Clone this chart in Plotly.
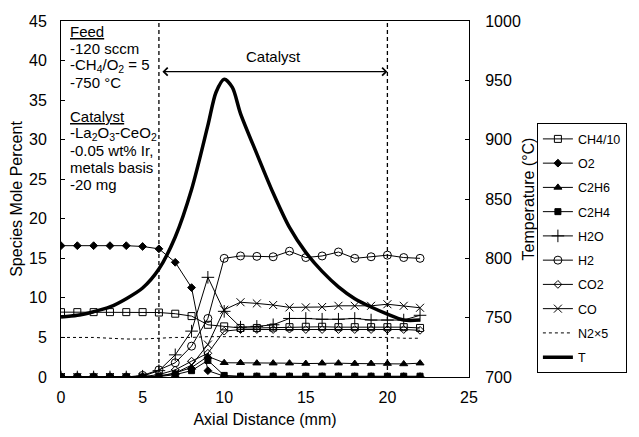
import plotly.graph_objects as go

# ---------------- data ----------------
dist = list(range(23))  # axial distance, mm

ch4_10 = [8.2, 8.2, 8.2, 8.2, 8.2, 8.2, 8.15, 8.0, 7.7, 6.6, 6.4, 6.2, 6.2, 6.25, 6.3, 6.35, 6.35, 6.3, 6.3, 6.3, 6.3, 6.3, 6.2]
o2 = [16.6, 16.6, 16.6, 16.6, 16.6, 16.5, 16.2, 14.5, 11.3, 0.8, 0.1, 0.05, 0.05, 0.05, 0.05, 0.05, 0.05, 0.05, 0.05, 0.05, 0.05, 0.05, 0.05]
c2h6 = [0, 0, 0, 0, 0, 0, 0.1, 0.5, 1.2, 2.6, 1.8, 1.8, 1.75, 1.75, 1.75, 1.7, 1.75, 1.75, 1.7, 1.7, 1.7, 1.65, 1.75]
c2h4 = [0, 0, 0, 0, 0, 0, 0.05, 0.3, 0.8, 2.1, 0.2, 0.1, 0.1, 0.1, 0.1, 0.1, 0.1, 0.1, 0.1, 0.1, 0.1, 0.1, 0.1]
h2o = [0, 0, 0, 0, 0, 0.1, 0.8, 2.8, 5.8, 12.6, 8.3, 6.3, 6.4, 6.6, 7.4, 7.4, 7.3, 7.3, 7.4, 7.2, 7.2, 7.2, 7.8]
h2 = [0, 0, 0, 0, 0, 0.2, 0.9, 1.8, 3.9, 7.4, 15.0, 15.3, 15.25, 15.2, 15.9, 15.1, 15.3, 15.8, 15.0, 15.2, 15.4, 15.1, 15.0]
co2 = [0, 0, 0, 0, 0, 0.05, 0.3, 0.9, 2.0, 3.0, 5.8, 6.0, 6.0, 6.0, 6.05, 6.0, 6.0, 6.0, 6.0, 6.0, 6.0, 6.0, 5.9]
co = [0, 0, 0, 0, 0, 0, 0.1, 0.5, 1.5, 4.1, 8.5, 9.45, 9.3, 9.1, 8.8, 8.8, 8.85, 9.0, 9.0, 9.0, 9.2, 9.0, 8.75]
n2x5 = [5.0, 5.0, 5.0, 4.9, 4.8, 4.8, 4.9, 5.0, 5.0, 5.1, 5.1, 5.1, 5.1, 5.1, 5.0, 5.0, 5.0, 5.0, 5.0, 5.0, 5.0, 4.9, 4.9]

t_dist = [0, 1, 2, 3, 4, 5, 6, 7, 8, 9, 9.5, 10, 10.5, 11, 12, 13, 14, 15, 16, 17, 18, 19, 20, 21, 22]
temp = [750.5, 752, 755, 759, 766, 775, 791, 818, 858, 912, 940, 951, 944, 922, 888, 855, 826, 805, 789, 776, 766, 759, 753, 748, 748]

catalyst_start, catalyst_end = 6, 20
info_lines = ["<u>Feed</u>", "-120 sccm", "-CH<sub>4</sub>/O<sub>2</sub> = 5", "-750 °C", "",
              "<u>Catalyst</u>", "-La<sub>2</sub>O<sub>3</sub>-CeO<sub>2</sub>", "-0.05 wt% Ir,",
              "metals basis", "-20 mg"]

FONT = "Liberation Sans, Arial, sans-serif"

fig = go.Figure()

species = [
    ("CH4/10", ch4_10, dict(symbol="square-open", size=7)),
    ("O2", o2, dict(symbol="diamond", size=6)),
    ("C2H6", c2h6, dict(symbol="triangle-up", size=7)),
    ("C2H4", c2h4, dict(symbol="square", size=6)),
    ("H2O", h2o, dict(symbol="cross-thin", size=9, line=dict(width=1, color="black"))),
    ("H2", h2, dict(symbol="circle-open", size=8)),
    ("CO2", co2, dict(symbol="diamond-open", size=6)),
    ("CO", co, dict(symbol="x-thin", size=8, line=dict(width=1, color="black"))),
]
for i, (name, vals, mk) in enumerate(species):
    mk = dict(mk)
    mk.setdefault("line", dict(width=1, color="black"))
    mk["color"] = "black"
    fig.add_trace(go.Scatter(x=dist, y=vals, name=name, mode="lines+markers",
                             line=dict(color="black", width=1), marker=mk,
                             legendgroup=f"g{i}"))

fig.add_trace(go.Scatter(x=dist, y=n2x5, name="N2×5", mode="lines",
                         line=dict(color="black", width=1, dash="3px,3px"),
                         legendgroup="g8"))
fig.add_trace(go.Scatter(x=t_dist, y=temp, name="T", mode="lines", yaxis="y2",
                         line=dict(color="black", width=3.5, shape="spline", smoothing=0.8),
                         legendgroup="g9"))

# catalyst boundaries
for xv in (catalyst_start, catalyst_end):
    fig.add_shape(type="line", x0=xv, x1=xv, y0=0, y1=1, xref="x", yref="paper",
                  line=dict(color="black", width=1.3, dash="4px,3px"))

# double arrow
fig.add_annotation(x=catalyst_end, y=38.6, ax=catalyst_start, ay=38.6, xref="x", yref="y",
                   axref="x", ayref="y", text=" ", showarrow=True, arrowhead=4,
                   startarrowhead=4, arrowside="end+start", arrowsize=1.3,
                   startarrowsize=1.3, arrowwidth=1.2, arrowcolor="black")
fig.add_annotation(x=13, y=40.5, xref="x", yref="y", text="Catalyst", showarrow=False,
                   font=dict(family=FONT, size=15, color="black"))

# info text block
for k, line in enumerate(info_lines):
    if not line:
        continue
    ypix = 32 + k * 17.3
    fig.add_annotation(x=(68 - 61) / 416, y=(383 - ypix) / 362, xref="paper", yref="paper",
                       text=line, showarrow=False, xanchor="left", yanchor="middle",
                       font=dict(family=FONT, size=15, color="black"))

fig.update_layout(
    width=639, height=437,
    margin=dict(l=61, r=162, t=21, b=54),
    paper_bgcolor="white", plot_bgcolor="white",
    font=dict(family=FONT, size=16, color="black"),
    showlegend=True,
    legend=dict(x=(638 - 61) / 416, y=(383 - 125) / 362, xanchor="right", yanchor="top",
                bordercolor="black", borderwidth=1, bgcolor="white",
                font=dict(family=FONT, size=12.5, color="black"),
                tracegroupgap=5, itemwidth=30),
    xaxis=dict(range=[0, 25], dtick=5, showgrid=False, zeroline=False,
               showline=True, linecolor="black", linewidth=1, mirror=True,
               ticks="", ticklabelstandoff=6,
               title=dict(text="Axial Distance (mm)", standoff=8,
                          font=dict(family=FONT, size=16))),
    yaxis=dict(range=[0, 45], dtick=5, showgrid=False, zeroline=False,
               showline=True, linecolor="black", linewidth=1,
               ticks="inside", ticklen=4, tickcolor="black", ticklabelstandoff=10,
               title=dict(text="Species Mole Percent", standoff=2,
                          font=dict(family=FONT, size=16))),
    yaxis2=dict(range=[700, 1000], dtick=50, overlaying="y", side="right",
                showgrid=False, zeroline=False, showline=True, linecolor="black",
                linewidth=1, ticks="inside", ticklen=4, tickcolor="black",
                ticklabelstandoff=12,
                title=dict(text="Temperature (°C)", standoff=2,
                           font=dict(family=FONT, size=16))),
)

fig.write_html("out.html")
